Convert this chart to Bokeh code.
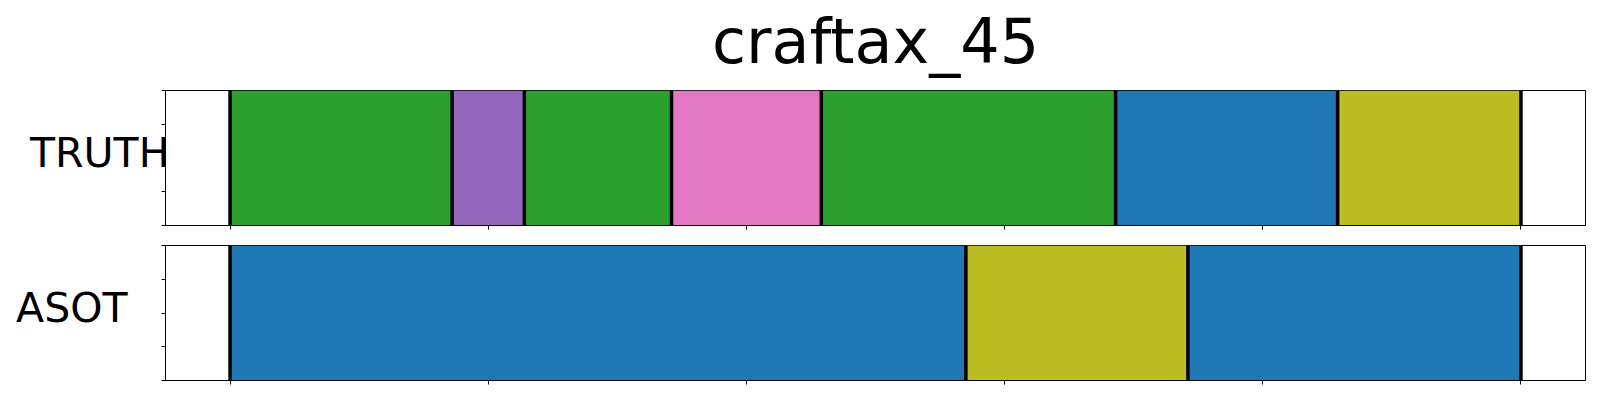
from bokeh.plotting import figure
from bokeh.layouts import column
from bokeh.models import Range1d, FixedTicker, CustomJSTickFormatter, LinearAxis
from bokeh.core.properties import value
from bokeh.embed import file_html
from bokeh.resources import INLINE

# ---- data ----
title_text = "craftax_45"
n_frames = 500
truth_bounds = [0, 86, 114, 171, 229, 343, 429, 500]
truth_colors = ["#2ca02c", "#9467bd", "#2ca02c", "#e377c2", "#2ca02c", "#1f77b4", "#bcbd22"]
asot_bounds = [0, 285, 371, 500]
asot_colors = ["#1f77b4", "#bcbd22", "#1f77b4"]
row_names = ["TRUTH", "ASOT"]
x_ticks = [0, 100, 200, 300, 400, 500]
y_ticks = [0, 0.25, 0.5, 0.75, 1]

FONT = "DejaVu Sans"
margin = 0.05 * n_frames
LEFT, RIGHT, FW = 165, 7, 1420
NAME_POS = 0.54  # vertical anchor of the row name inside a panel

# ---- title strip ----
TH = 89
TITLE_Y = 47.8  # baseline position inside the strip (pixels from its bottom)
pt = figure(frame_width=FW, frame_height=TH,
            x_range=Range1d(-margin, n_frames + margin), y_range=Range1d(0, TH),
            output_backend="svg", toolbar_location=None,
            min_border_left=LEFT, min_border_right=RIGHT,
            min_border_top=0, min_border_bottom=0)
pt.axis.visible = False
pt.grid.visible = False
pt.outline_line_color = None
pt.text(x=[n_frames / 2], y=[TITLE_Y], text=[title_text],
        text_font=value(FONT), text_font_size="62px", text_color="black",
        text_align="center", text_baseline="alphabetic")


def make_panel(bounds, colors, name, top_border, bottom_border, label_standoff):
    p = figure(frame_width=FW, frame_height=135,
               x_range=Range1d(-margin, n_frames + margin), y_range=Range1d(0, 1),
               output_backend="svg", toolbar_location=None,
               min_border_left=LEFT, min_border_right=RIGHT,
               min_border_top=top_border, min_border_bottom=bottom_border)
    p.grid.visible = False
    p.outline_line_color = "black"
    p.outline_line_width = 1
    p.quad(left=bounds[:-1], right=bounds[1:], bottom=0, top=1,
           fill_color=colors, line_color=None)
    p.segment(x0=bounds, y0=[0] * len(bounds), x1=bounds, y1=[1] * len(bounds),
              line_color="black", line_width=3.5)
    blank = CustomJSTickFormatter(code="return ''")
    for ax, ticks in ((p.xaxis, x_ticks), (p.yaxis, y_ticks)):
        ax.ticker = FixedTicker(ticks=ticks)
        ax.formatter = blank
        ax.major_tick_out = 4
        ax.major_tick_in = 0
        ax.minor_tick_line_color = None
        ax.axis_line_color = "black"
        ax.major_tick_line_color = "black"
        ax.major_label_text_font_size = "1px"
        ax.major_label_standoff = 0
    name_axis = LinearAxis(ticker=FixedTicker(ticks=[NAME_POS]),
                           formatter=CustomJSTickFormatter(args=dict(name=name), code="return name"),
                           axis_line_color=None, major_tick_line_color=None,
                           minor_tick_line_color=None,
                           major_tick_out=0, major_tick_in=0,
                           major_label_text_font=FONT,
                           major_label_text_font_size="41px",
                           major_label_text_color="black",
                           major_label_standoff=label_standoff)
    p.add_layout(name_axis, "left")
    return p


p1 = make_panel(truth_bounds, truth_colors, row_names[0], 1, 10, -8)
p2 = make_panel(asot_bounds, asot_colors, row_names[1], 10, 15, 34)

layout = column(pt, p1, p2)
open("out.html", "w").write(file_html(layout, INLINE))
